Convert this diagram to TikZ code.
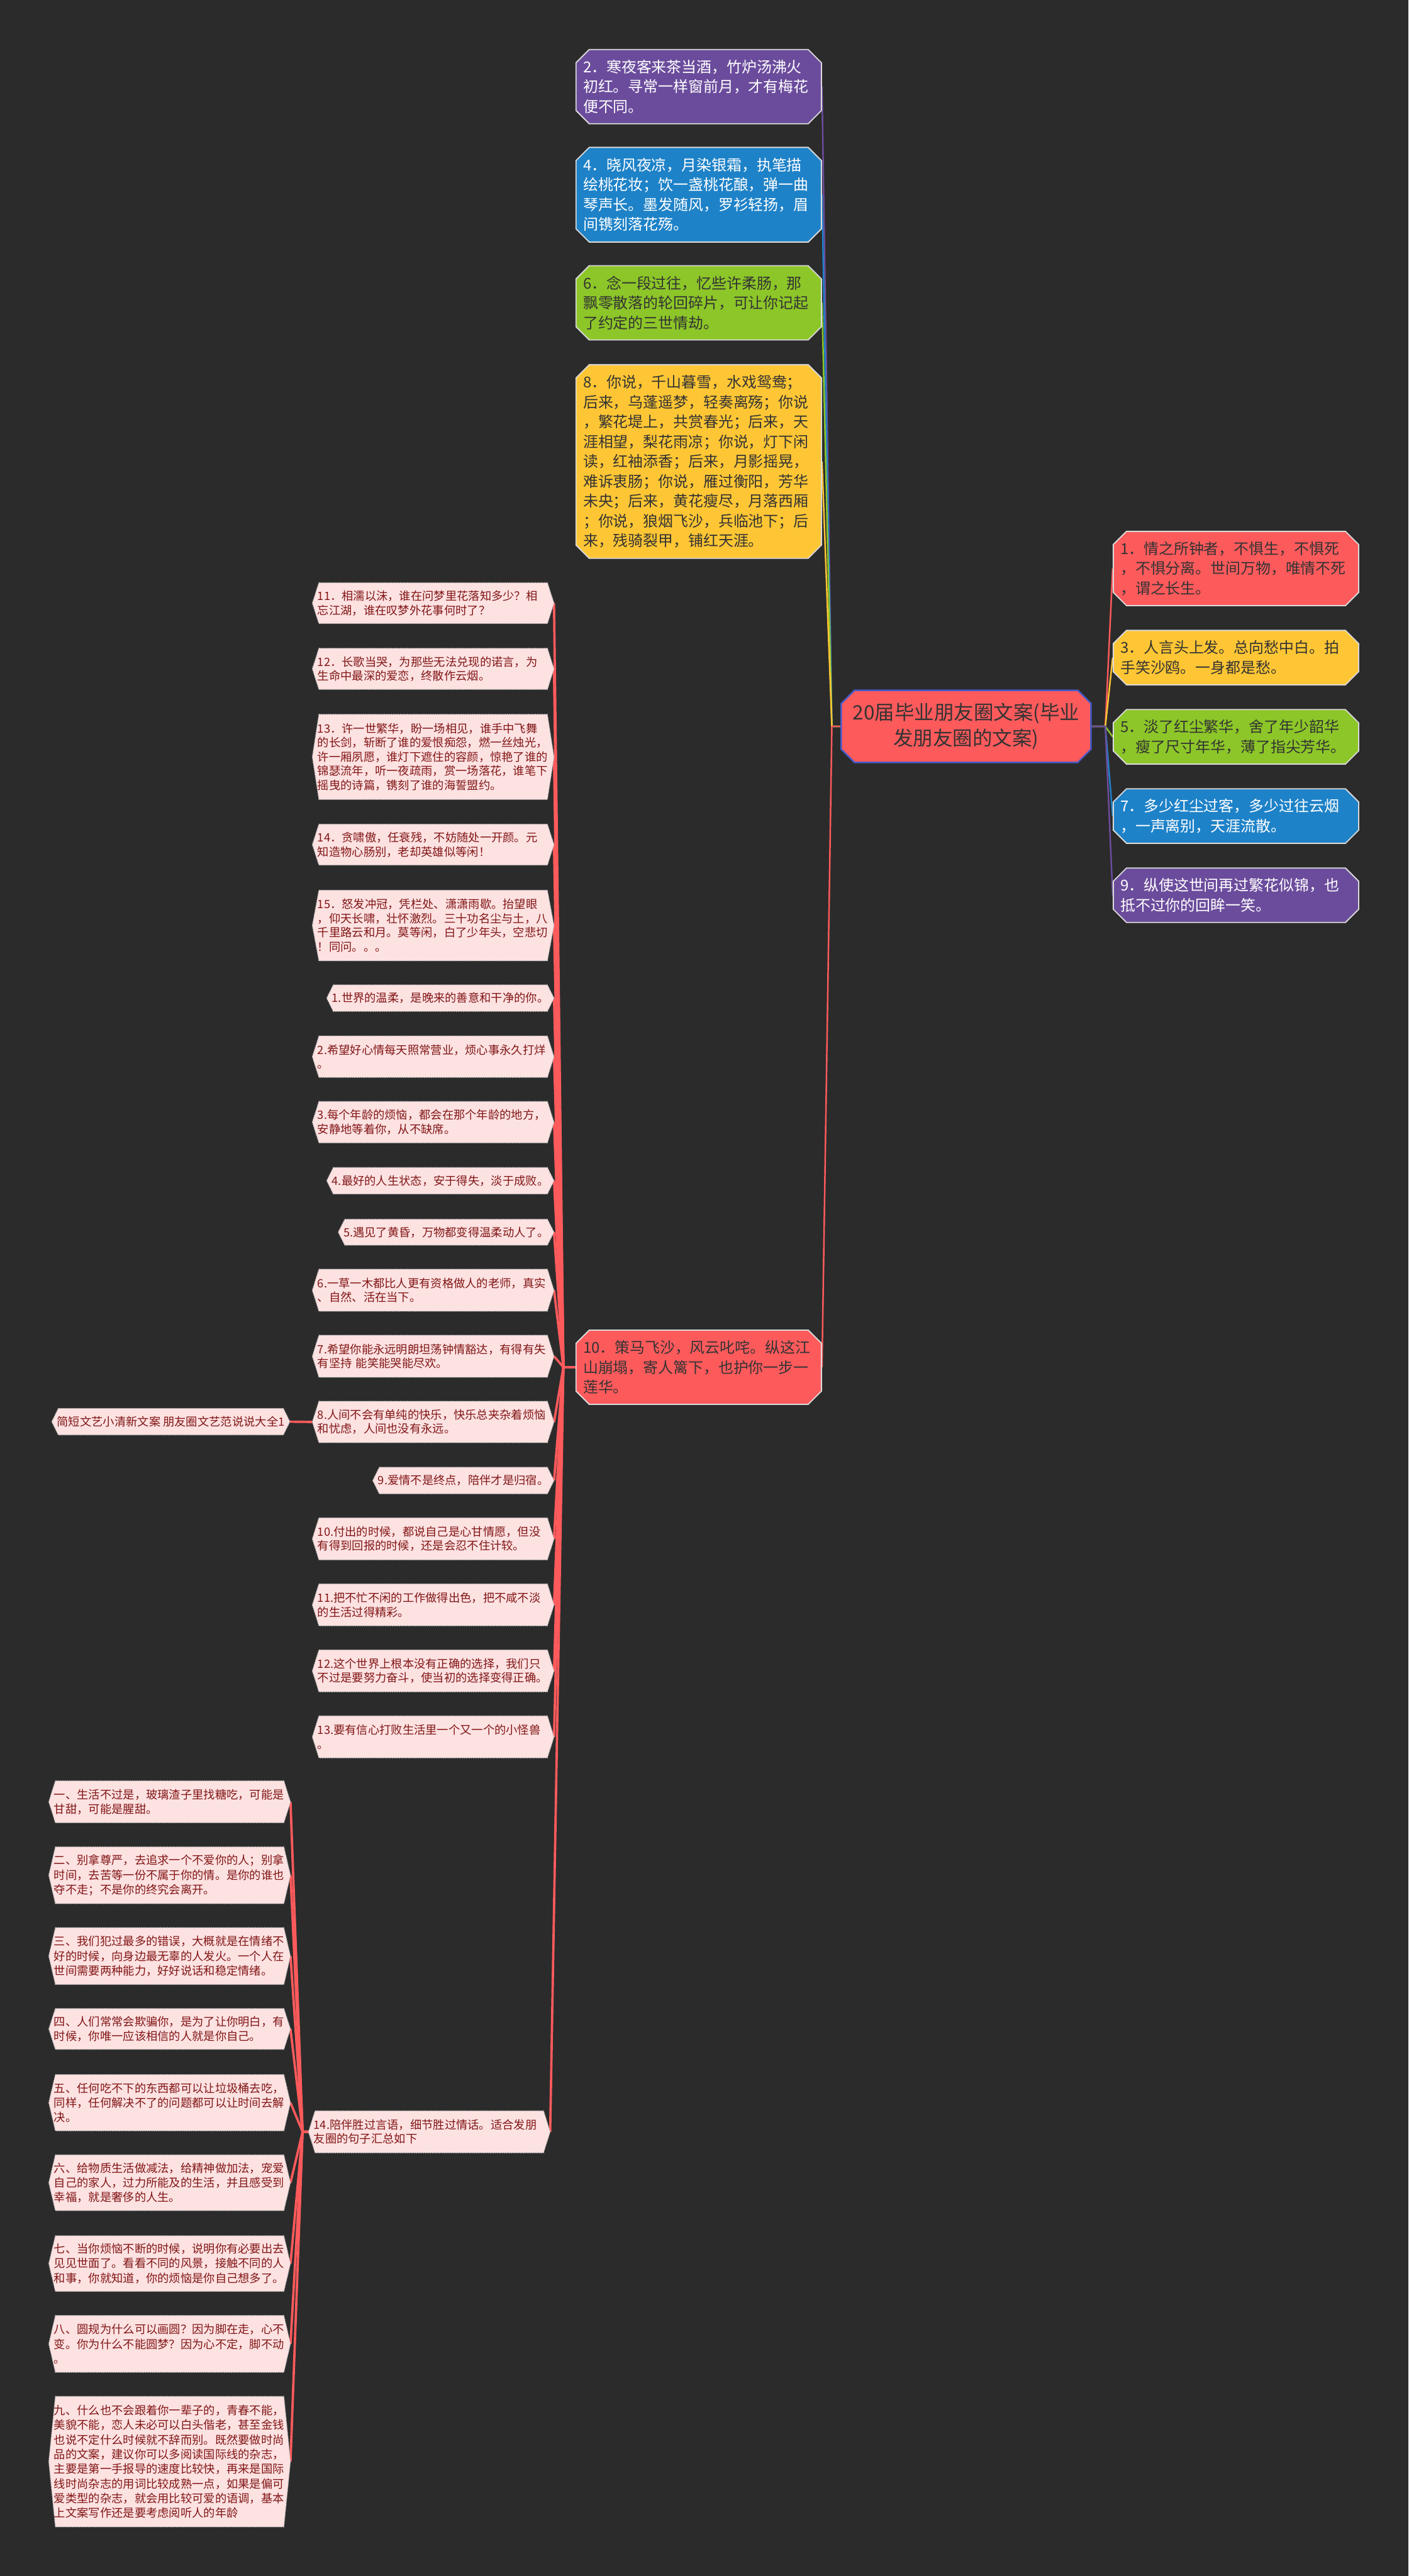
\documentclass[tikz,border=0pt]{standalone}
\usepackage{fontspec}
\usepackage{tikz}
\usetikzlibrary{positioning, calc, shapes.misc}
\newfontfamily\cjk{Noto Sans CJK SC}

\definecolor{bgdark}{RGB}{43,43,43}
\definecolor{cpurple}{RGB}{107,76,156}
\definecolor{cblue}{RGB}{30,130,200}
\definecolor{cgreen}{RGB}{140,198,40}
\definecolor{cyellow}{RGB}{254,198,52}
\definecolor{cred}{RGB}{253,90,92}
\definecolor{cpink}{RGB}{253,226,226}
\definecolor{cink}{RGB}{130,22,22}
\definecolor{cedge}{RGB}{70,90,200}

\newcommand{\boxfont}{\cjk\fontsize{7.77pt}{10.24pt}\selectfont}
\newcommand{\rootfont}{\cjk\fontsize{10.24pt}{13.4pt}\selectfont}
\newcommand{\leaffont}{\cjk\fontsize{5.95pt}{7.3pt}\selectfont}
\newcommand{\tailfont}{\cjk\fontsize{5.95pt}{7.6pt}\selectfont}

\pgfdeclarelayer{background}
\pgfsetlayers{background,main}

\begin{document}
\begin{tikzpicture}[
    topic/.style={chamfered rectangle, chamfered rectangle xsep=0.12cm,
      chamfered rectangle ysep=0.12cm, draw=white!85!black, line width=0.6pt,
      inner xsep=0.01cm, inner ysep=0pt, text width=4.2cm, align=left,
      text=black!80, font=\boxfont},
    rootbox/.style={topic, fill=cred, draw=cedge, line width=0.8pt,
      inner xsep=0pt, text width=4.3cm, align=center, font=\rootfont},
    leaf/.style={anchor=east, inner xsep=0.09cm, inner ysep=0pt, align=left,
      text=cink, font=\leaffont},
    leafwide/.style={leaf, text width=4.2cm},
    tail/.style={leafwide, font=\tailfont},
    leafhex/.style={fill=cpink, draw=white!70!black, line width=0.4pt,
      dash pattern=on 0.6pt off 0.6pt},
    conn/.style={line width=0.8pt},
    pinkline/.style={draw=cred, line width=1.2pt}]

  % root
  \node[rootbox, minimum height=1.31cm] (root) at (17.56,-13.205)
    {20届毕业朋友圈文案(毕业\\发朋友圈的文案)};

  % upper left branch
  \node[topic, fill=cpurple, text=white, minimum height=1.35cm] (p2) at (12.70,-1.575)
    {2．寒夜客来茶当酒，竹炉汤沸火\\初红。寻常一样窗前月，才有梅花\\便不同。};
  \node[topic, fill=cblue, text=white, minimum height=1.72cm] (p4) at (12.70,-3.54)
    {4．晓风夜凉，月染银霜，执笔描\\绘桃花妆；饮一盏桃花酿，弹一曲\\琴声长。墨发随风，罗衫轻扬，眉\\间镌刻落花殇。};
  \node[topic, fill=cgreen, minimum height=1.35cm] (p6) at (12.70,-5.505)
    {6．念一段过往，忆些许柔肠，那\\飘零散落的轮回碎片，可让你记起\\了约定的三世情劫。};
  \node[topic, fill=cyellow, minimum height=3.52cm] (p8) at (12.70,-8.39)
    {8．你说，千山暮雪，水戏鸳鸯；\\后来，乌蓬遥梦，轻奏离殇；你说\\，繁花堤上，共赏春光；后来，天\\涯相望，梨花雨凉；你说，灯下闲\\读，红袖添香；后来，月影摇晃，\\难诉衷肠；你说，雁过衡阳，芳华\\未央；后来，黄花瘦尽，月落西厢\\；你说，狼烟飞沙，兵临池下；后\\来，残骑裂甲，铺红天涯。};
  \node[topic, fill=cred, minimum height=1.35cm] (n10) at (12.70,-24.855)
    {10．策马飞沙，风云叱咤。纵这江\\山崩塌，寄人篱下，也护你一步一\\莲华。};

  % right branch
  \node[topic, fill=cred, minimum height=1.35cm] (r1) at (22.465,-10.335)
    {1．情之所钟者，不惧生，不惧死\\，不惧分离。世间万物，唯情不死\\，谓之长生。};
  \node[topic, fill=cyellow, minimum height=0.99cm] (r3) at (22.465,-11.955)
    {3．人言头上发。总向愁中白。拍\\手笑沙鸥。一身都是愁。};
  \node[topic, fill=cgreen, minimum height=0.99cm] (r5) at (22.465,-13.395)
    {5．淡了红尘繁华，舍了年少韶华\\，瘦了尺寸年华，薄了指尖芳华。};
  \node[topic, fill=cblue, text=white, minimum height=0.99cm] (r7) at (22.465,-14.835)
    {7．多少红尘过客，多少过往云烟\\，一声离别，天涯流散。};
  \node[topic, fill=cpurple, text=white, minimum height=0.99cm] (r9) at (22.465,-16.275)
    {9．纵使这世间再过繁花似锦，也\\抵不过你的回眸一笑。};

  % leaves of 10
  \node[leafwide, minimum height=0.73cm] (s11) at (10.07,-10.965)
    {11．相濡以沫，谁在问梦里花落知多少？相\\忘江湖，谁在叹梦外花事何时了？};
  \node[leafwide, minimum height=0.735cm] (s12) at (10.07,-12.16)
    {12．长歌当哭，为那些无法兑现的诺言，为\\生命中最深的爱恋，终散作云烟。};
  \node[leafwide, minimum height=1.535cm] (s13) at (10.07,-13.76)
    {13．许一世繁华，盼一场相见，谁手中飞舞\\的长剑，斩断了谁的爱恨痴怨，燃一丝烛光，\\许一厢夙愿，谁灯下遮住的容颜，惊艳了谁的\\锦瑟流年，听一夜疏雨，赏一场落花，谁笔下\\摇曳的诗篇，镌刻了谁的海誓盟约。};
  \node[leafwide, minimum height=0.73cm] (s14) at (10.07,-15.355)
    {14．贪啸傲，任衰残，不妨随处一开颜。元\\知造物心肠别，老却英雄似等闲！};
  \node[leafwide, minimum height=1.27cm] (s15) at (10.07,-16.825)
    {15．怒发冲冠，凭栏处、潇潇雨歇。抬望眼\\，仰天长啸，壮怀激烈。三十功名尘与土，八\\千里路云和月。莫等闲，白了少年头，空悲切\\！同问。。。};
  \node[leaf, minimum height=0.47cm] (w1) at (10.07,-18.145)
    {1.世界的温柔，是晚来的善意和干净的你。};
  \node[leafwide, minimum height=0.74cm] (w2) at (10.07,-19.21)
    {2.希望好心情每天照常营业，烦心事永久打烊\\。};
  \node[leafwide, minimum height=0.74cm] (w3) at (10.07,-20.40)
    {3.每个年龄的烦恼，都会在那个年龄的地方，\\安静地等着你，从不缺席。};
  \node[leaf, minimum height=0.47cm] (w4) at (10.07,-21.465)
    {4.最好的人生状态，安于得失，淡于成败。};
  \node[leaf, minimum height=0.46cm] (w5) at (10.07,-22.40)
    {5.遇见了黄昏，万物都变得温柔动人了。};
  \node[leafwide, minimum height=0.75cm] (w6) at (10.07,-23.455)
    {6.一草一木都比人更有资格做人的老师，真实\\、自然、活在当下。};
  \node[leafwide, minimum height=0.75cm] (w7) at (10.07,-24.655)
    {7.希望你能永远明朗坦荡钟情豁达，有得有失\\有坚持 能笑能哭能尽欢。};
  \node[leafwide, minimum height=0.74cm] (w8) at (10.07,-25.85)
    {8.人间不会有单纯的快乐，快乐总夹杂着烦恼\\和忧虑，人间也没有永远。};
  \node[leaf, minimum height=0.47cm] (w9) at (10.07,-26.915)
    {9.爱情不是终点，陪伴才是归宿。};
  \node[leafwide, minimum height=0.75cm] (w10) at (10.07,-27.975)
    {10.付出的时候，都说自己是心甘情愿，但没\\有得到回报的时候，还是会忍不住计较。};
  \node[leafwide, minimum height=0.75cm] (w11) at (10.07,-29.175)
    {11.把不忙不闲的工作做得出色，把不咸不淡\\的生活过得精彩。};
  \node[leafwide, minimum height=0.75cm] (w12) at (10.07,-30.375)
    {12.这个世界上根本没有正确的选择，我们只\\不过是要努力奋斗，使当初的选择变得正确。};
  \node[leafwide, minimum height=0.75cm] (w13) at (10.07,-31.575)
    {13.要有信心打败生活里一个又一个的小怪兽\\。};
  \node[leafwide, minimum height=0.75cm] (w14) at (10.00,-38.755)
    {14.陪伴胜过言语，细节胜过情话。适合发朋\\友圈的句子汇总如下};
  \node[leaf, minimum height=0.47cm] (wx) at (5.27,-25.845)
    {简短文艺小清新文案 朋友圈文艺范说说大全1};

  % leaves of 14
  \node[tail, minimum height=0.75cm] (c1) at (5.28,-32.755)
    {一、生活不过是，玻璃渣子里找糖吃，可能是\\甘甜，可能是腥甜。};
  \node[tail, minimum height=1.02cm] (c2) at (5.28,-34.09)
    {二、别拿尊严，去追求一个不爱你的人；别拿\\时间，去苦等一份不属于你的情。是你的谁也\\夺不走；不是你的终究会离开。};
  \node[tail, minimum height=1.02cm] (c3) at (5.28,-35.56)
    {三、我们犯过最多的错误，大概就是在情绪不\\好的时候，向身边最无辜的人发火。一个人在\\世间需要两种能力，好好说话和稳定情绪。};
  \node[tail, minimum height=0.73cm] (c4) at (5.28,-36.885)
    {四、人们常常会欺骗你，是为了让你明白，有\\时候，你唯一应该相信的人就是你自己。};
  \node[tail, minimum height=1.01cm] (c5) at (5.28,-38.225)
    {五、任何吃不下的东西都可以让垃圾桶去吃，\\同样，任何解决不了的问题都可以让时间去解\\决。};
  \node[tail, minimum height=1.00cm] (c6) at (5.28,-39.68)
    {六、给物质生活做减法，给精神做加法，宠爱\\自己的家人，过力所能及的生活，并且感受到\\幸福，就是奢侈的人生。};
  \node[tail, minimum height=1.00cm] (c7) at (5.28,-41.15)
    {七、当你烦恼不断的时候，说明你有必要出去\\见见世面了。看看不同的风景，接触不同的人\\和事，你就知道，你的烦恼是你自己想多了。};
  \node[tail, minimum height=1.02cm] (c8) at (5.28,-42.61)
    {八、圆规为什么可以画圆？因为脚在走，心不\\变。你为什么不能圆梦？因为心不定，脚不动\\。};
  \node[tail, minimum height=2.36cm] (c9) at (5.28,-44.75)
    {九、什么也不会跟着你一辈子的，青春不能，\\美貌不能，恋人未必可以白头偕老，甚至金钱\\也说不定什么时候就不辞而别。既然要做时尚\\品的文案，建议你可以多阅读国际线的杂志，\\主要是第一手报导的速度比较快，再来是国际\\线时尚杂志的用词比较成熟一点，如果是偏可\\爱类型的杂志，就会用比较可爱的语调，基本\\上文案写作还是要考虑阅听人的年龄};

  \begin{pgfonlayer}{background}
    \fill[bgdark] (0,0) rectangle (25.6,-46.83);
    \coordinate (hubL) at (15.12,-13.205);
    \coordinate (hubR) at (20.09,-13.205);
    \coordinate (hubA) at (10.24,-24.855);
    \coordinate (hubB) at (5.50,-38.755);

    % branches of the root
    \foreach \n/\c in {p2/cpurple, p4/cblue, p6/cgreen, p8/cyellow, n10/cred}
      \draw[conn, draw=\c] (root.west) -- (hubL) -- (\n.east);
    \foreach \n/\c in {r1/cred, r3/cyellow, r5/cgreen, r7/cblue, r9/cpurple}
      \draw[conn, draw=\c] (root.east) -- (hubR) -- (\n.west);

    % leaves
    \foreach \n in {s11,s12,s13,s14,s15,w1,w2,w3,w4,w5,w6,w7,w8,w9,w10,w11,w12,w13,w14}
      \draw[pinkline] (n10.west) -- (hubA) -- (\n.east);
    \draw[pinkline] (w8.west) -- (wx.east);
    \foreach \n in {c1,c2,c3,c4,c5,c6,c7,c8,c9}
      \draw[pinkline] (w14.west) -- (hubB) -- (\n.east);

    % hexagon outline of the leaves
    \foreach \n in {s11,s12,s13,s14,s15,w1,w2,w3,w4,w5,w6,w7,w8,w9,w10,w11,w12,w13,w14,wx,c1,c2,c3,c4,c5,c6,c7,c8,c9}
      \path[leafhex] ($(\n.north west)+(0.12,0)$) -- ($(\n.north east)+(-0.12,0)$)
        -- (\n.east) -- ($(\n.south east)+(-0.12,0)$)
        -- ($(\n.south west)+(0.12,0)$) -- (\n.west) -- cycle;
  \end{pgfonlayer}
\end{tikzpicture}
\end{document}
